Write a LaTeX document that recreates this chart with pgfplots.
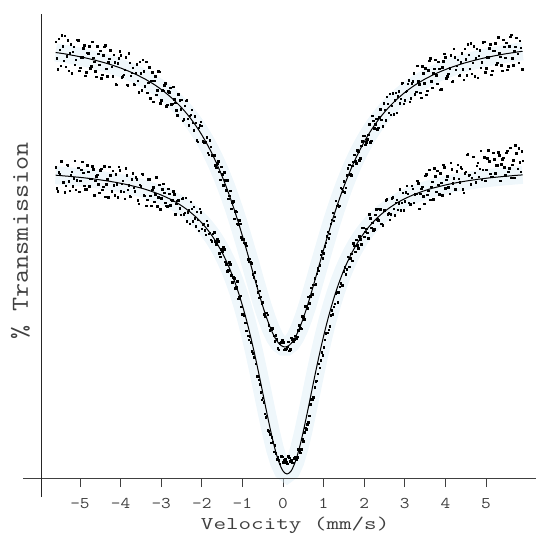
\documentclass[border=0pt]{standalone}
\usepackage{pgfplots}
\pgfplotsset{compat=1.18}
\usepackage{pgfplotstable}
\usepackage{graphicx}
\usepackage{fontspec}
\definecolor{haze}{rgb}{0.86,0.93,0.97}
\definecolor{axisgray}{gray}{0.25}
\newcommand\sx[1]{\scalebox{1.15}[1]{#1}}

\pgfplotstableread{
x U L
-5.6 425.5 302.8
-5.5 424.9 302.5
-5.4 424.3 302.1
-5.3 423.6 301.8
-5.2 422.8 301.4
-5.1 422.1 301.0
-5.0 421.2 300.6
-4.9 420.4 300.2
-4.8 419.5 299.7
-4.7 418.5 299.2
-4.6 417.5 298.7
-4.5 416.4 298.1
-4.4 415.3 297.5
-4.3 414.1 296.9
-4.2 412.8 296.2
-4.1 411.4 295.5
-4.0 410.0 294.7
-3.9 408.4 293.9
-3.8 406.8 293.0
-3.7 405.0 292.0
-3.6 403.2 291.0
-3.5 401.1 290.0
-3.4 399.0 288.8
-3.3 396.6 287.5
-3.2 394.2 286.1
-3.1 391.5 284.6
-3.0 388.6 283.0
-2.9 385.5 281.2
-2.8 382.1 279.3
-2.7 378.5 277.2
-2.6 374.6 274.9
-2.5 370.4 272.3
-2.4 365.8 269.5
-2.3 360.8 266.4
-2.2 355.4 263.0
-2.1 349.5 259.3
-2.0 343.1 255.1
-1.9 336.1 250.4
-1.8 328.6 245.2
-1.7 320.3 239.4
-1.6 311.4 232.8
-1.5 301.8 225.5
-1.4 291.4 217.2
-1.3 280.2 208.0
-1.2 268.3 197.5
-1.1 255.6 185.8
-1.0 242.2 172.6
-0.9 228.3 158.0
-0.8 214.1 141.8
-0.7 199.7 124.2
-0.6 185.6 105.3
-0.5 172.1 85.5
-0.4 159.8 65.6
-0.3 149.1 46.5
-0.2 140.5 29.4
-0.1 134.5 15.9
0.0 131.4 7.0
0.1 131.4 4.0
0.2 134.5 7.0
0.3 140.5 15.9
0.4 149.1 29.4
0.5 159.8 46.5
0.6 172.1 65.6
0.7 185.6 85.5
0.8 199.7 105.3
0.9 214.1 124.2
1.0 228.3 141.8
1.1 242.2 158.0
1.2 255.6 172.6
1.3 268.3 185.8
1.4 280.2 197.5
1.5 291.4 208.0
1.6 301.8 217.2
1.7 311.4 225.5
1.8 320.3 232.8
1.9 328.6 239.4
2.0 336.1 245.2
2.1 343.1 250.4
2.2 349.5 255.1
2.3 355.4 259.3
2.4 360.8 263.0
2.5 365.8 266.4
2.6 370.4 269.5
2.7 374.6 272.3
2.8 378.5 274.9
2.9 382.1 277.2
3.0 385.5 279.3
3.1 388.6 281.2
3.2 391.5 283.0
3.3 394.2 284.6
3.4 396.6 286.1
3.5 399.0 287.5
3.6 401.1 288.8
3.7 403.2 290.0
3.8 405.0 291.0
3.9 406.8 292.0
4.0 408.4 293.0
4.1 410.0 293.9
4.2 411.4 294.7
4.3 412.8 295.5
4.4 414.1 296.2
4.5 415.3 296.9
4.6 416.4 297.5
4.7 417.5 298.1
4.8 418.5 298.7
4.9 419.5 299.2
5.0 420.4 299.7
5.1 421.2 300.2
5.2 422.1 300.6
5.3 422.8 301.0
5.4 423.6 301.4
5.5 424.3 301.8
5.6 424.9 302.1
5.7 425.5 302.5
5.8 426.2 302.8
5.9 426.7 303.1
}\fitdata

\pgfplotstableread{
x y
-5.6 436.3
-5.55 409.0
-5.5 428.5
-5.45 442.6
-5.4 417.1
-5.35 411.3
-5.3 438.0
-5.25 425.0
-5.2 404.8
-5.15 431.5
-5.1 418.5
-5.05 437.9
-5.0 410.4
-4.95 420.8
-4.9 433.0
-4.85 405.6
-4.8 424.9
-4.75 410.0
-4.7 436.5
-4.65 416.2
-4.6 401.3
-4.55 424.2
-4.5 427.2
-4.45 403.3
-4.4 431.5
-4.35 409.3
-4.3 415.9
-4.25 427.9
-4.2 402.0
-4.15 415.7
-4.1 393.4
-4.05 419.7
-4.0 422.6
-3.95 402.0
-3.9 408.4
-3.85 393.2
-3.8 424.8
-3.75 402.3
-3.7 410.4
-3.65 393.3
-3.6 414.0
-3.55 386.0
-3.5 404.7
-3.45 418.1
-3.4 391.8
-3.35 385.2
-3.3 411.0
-3.25 397.2
-3.2 376.2
-3.15 401.9
-3.1 387.9
-3.05 406.3
-3.0 377.8
-2.95 387.1
-2.9 394.6
-2.85 373.4
-2.8 386.0
-2.75 373.8
-2.7 391.5
-2.65 375.3
-2.6 362.9
-2.55 377.7
-2.5 378.2
-2.45 359.0
-2.4 377.5
-2.35 359.4
-2.3 362.1
-2.25 368.5
-2.2 347.6
-2.15 355.1
-2.1 336.5
-2.05 352.8
-2.0 352.2
-1.95 336.0
-1.9 336.1
-1.85 325.2
-1.8 337.6
-1.75 322.7
-1.7 323.0
-1.65 310.5
-1.6 316.8
-1.55 298.5
-1.5 303.6
-1.45 305.6
-1.4 287.8
-1.35 279.5
-1.3 287.4
-1.25 275.2
-1.2 259.3
-1.15 266.5
-1.1 253.8
-1.05 254.3
-1.0 238.6
-0.95 235.3
-0.9 232.5
-0.85 216.4
-0.8 215.9
-0.75 203.9
-0.7 205.7
-0.65 192.1
-0.6 180.2
-0.55 181.3
-0.5 175.7
-0.45 161.8
-0.4 165.2
-0.35 152.7
-0.3 149.7
-0.25 149.6
-0.2 136.9
-0.15 138.7
-0.1 128.5
-0.05 136.0
0.0 135.6
0.05 128.6
0.1 131.4
0.15 127.4
0.2 140.5
0.25 136.3
0.3 142.3
0.35 141.2
0.4 152.7
0.45 149.1
0.5 161.0
0.55 172.0
0.6 169.7
0.65 174.7
0.7 190.4
0.75 193.3
0.8 193.7
0.85 209.9
0.9 212.9
0.95 226.6
1.0 224.7
1.05 235.3
1.1 246.4
1.15 244.1
1.2 258.3
1.25 257.5
1.3 277.3
1.35 273.4
1.4 272.1
1.45 289.4
1.5 296.8
1.55 290.3
1.6 309.9
1.65 303.9
1.7 312.3
1.75 323.1
1.8 314.9
1.85 326.3
1.9 319.6
1.95 336.9
2.0 342.4
2.05 336.0
2.1 343.1
2.15 335.9
2.2 362.5
2.25 349.9
2.3 359.3
2.35 350.3
2.4 368.6
2.45 351.6
2.5 368.4
2.55 381.1
2.6 365.2
2.65 363.4
2.7 385.0
2.75 377.9
2.8 365.5
2.85 386.8
2.9 379.5
2.95 395.5
3.0 377.7
3.05 387.1
3.1 397.7
3.15 379.7
3.2 396.9
3.25 383.9
3.3 412.2
3.35 393.6
3.4 380.4
3.45 405.0
3.5 409.8
3.55 387.5
3.6 417.3
3.65 396.8
3.7 405.0
3.75 418.5
3.8 394.2
3.85 409.5
3.9 388.8
3.95 416.6
4.0 421.0
4.05 402.0
4.1 410.0
4.15 396.3
4.2 429.4
4.25 408.5
4.3 418.2
4.35 402.7
4.4 424.9
4.45 398.5
4.5 418.9
4.55 433.9
4.6 409.2
4.65 404.4
4.7 431.9
4.75 419.8
4.8 400.5
4.85 428.0
4.9 415.9
4.95 436.2
5.0 409.6
5.05 420.8
5.1 433.8
5.15 407.3
5.2 427.5
5.25 413.5
5.3 440.8
5.35 421.4
5.4 407.4
5.45 431.1
5.5 435.1
5.55 412.0
5.6 441.1
5.65 419.8
5.7 427.3
5.75 440.3
5.8 415.4
5.85 430.1
5.9 408.7
}\upperdata

\pgfplotstableread{
x y
-5.575 420.0
-5.525 439.5
-5.475 412.2
-5.425 431.7
-5.375 442.1
-5.325 421.9
-5.275 407.2
-5.225 433.8
-5.175 426.3
-5.125 413.3
-5.075 438.1
-5.025 407.1
-4.975 421.0
-4.925 429.6
-4.875 402.2
-4.825 425.2
-4.775 431.9
-4.725 411.6
-4.675 420.1
-4.625 407.0
-4.575 431.7
-4.525 413.1
-4.475 400.0
-4.425 422.8
-4.375 433.0
-4.325 401.8
-4.275 419.2
-4.225 411.4
-4.175 423.3
-4.125 393.8
-4.075 414.7
-4.025 426.6
-3.975 400.6
-3.925 403.4
-3.875 420.6
-3.825 392.8
-3.775 415.4
-3.725 405.5
-3.675 393.8
-3.625 405.5
-3.575 397.3
-3.525 416.1
-3.475 388.0
-3.425 406.8
-3.375 416.4
-3.325 395.4
-3.275 379.8
-3.225 405.6
-3.175 397.2
-3.125 383.2
-3.075 407.0
-3.025 375.0
-2.975 387.9
-2.925 392.8
-2.875 371.7
-2.825 386.9
-2.775 390.3
-2.725 374.2
-2.675 378.9
-2.625 367.8
-2.575 384.0
-2.525 368.9
-2.475 357.5
-2.425 372.2
-2.375 377.6
-2.325 353.0
-2.275 363.4
-2.225 355.5
-2.175 361.8
-2.125 338.0
-2.075 350.5
-2.025 356.4
-1.975 336.9
-1.925 335.2
-1.875 340.6
-1.825 323.3
-1.775 331.1
-1.725 322.4
-1.675 312.7
-1.625 314.6
-1.575 306.3
-1.525 311.4
-1.475 292.9
-1.425 297.6
-1.375 297.6
-1.325 282.1
-1.275 269.2
-1.225 276.7
-1.175 267.0
-1.125 254.3
-1.075 257.7
-1.025 240.8
-0.975 238.8
-0.925 234.8
-0.875 218.8
-0.825 219.5
-0.775 214.7
-0.725 200.9
-0.675 196.8
-0.625 185.6
-0.575 187.1
-0.525 174.3
-0.475 163.6
-0.425 165.3
-0.375 163.2
-0.325 147.6
-0.275 148.8
-0.225 142.1
-0.175 142.6
-0.125 130.0
-0.075 135.0
-0.025 137.6
0.025 128.2
0.075 129.4
0.125 136.4
0.175 129.0
0.225 139.0
0.275 139.0
0.325 139.1
0.375 147.6
0.425 150.0
0.475 162.0
0.525 158.7
0.575 171.5
0.625 181.5
0.675 181.7
0.725 183.8
0.775 199.8
0.825 204.5
0.875 207.5
0.925 223.1
0.975 220.0
1.025 231.8
1.075 241.8
1.125 239.6
1.175 254.1
1.225 265.1
1.275 261.5
1.325 272.2
1.375 271.9
1.425 290.2
1.475 286.8
1.525 285.9
1.575 302.8
1.625 313.2
1.675 302.7
1.725 316.4
1.775 317.2
1.825 327.8
1.875 317.6
1.925 332.3
1.975 342.4
2.025 333.4
2.075 338.6
2.125 353.8
2.175 337.5
2.225 357.5
2.275 354.0
2.325 348.9
2.375 360.8
2.425 358.2
2.475 375.0
2.525 357.8
2.575 374.5
2.625 384.5
2.675 372.3
2.725 363.9
2.775 385.4
2.825 382.0
2.875 374.7
2.925 394.7
2.975 374.2
3.025 386.3
3.075 394.4
3.125 376.4
3.175 394.7
3.225 404.8
3.275 386.4
3.325 396.6
3.375 385.2
3.425 411.6
3.475 394.8
3.525 383.4
3.575 407.8
3.625 419.7
3.675 390.1
3.725 409.1
3.775 402.8
3.825 416.3
3.875 388.4
3.925 410.8
3.975 424.2
4.025 399.8
4.075 404.2
4.125 423.0
4.175 396.7
4.225 420.8
4.275 412.5
4.325 402.4
4.375 415.6
4.425 409.0
4.475 429.4
4.525 403.0
4.575 423.4
4.625 434.7
4.675 415.5
4.725 401.6
4.775 429.1
4.825 422.4
4.875 410.3
4.925 435.9
4.975 405.8
5.025 420.6
5.075 430.0
5.125 403.5
5.175 427.3
5.225 434.9
5.275 415.5
5.325 424.8
5.375 412.6
5.425 438.2
5.475 420.5
5.525 408.3
5.575 431.9
5.625 443.1
5.675 412.8
5.725 431.1
5.775 424.3
5.825 437.2
5.875 408.6
}\upperdatab

\pgfplotstableread{
x y
-5.6 310.8
-5.55 286.6
-5.5 304.1
-5.45 316.7
-5.4 295.7
-5.35 292.3
-5.3 313.0
-5.25 287.2
-5.2 306.2
-5.15 299.6
-5.1 288.2
-5.05 310.4
-5.0 297.4
-4.95 316.4
-4.9 292.2
-4.85 288.7
-4.8 306.1
-4.75 299.4
-4.7 312.0
-4.65 282.9
-4.6 301.9
-4.55 293.6
-4.5 307.7
-4.45 288.2
-4.4 311.9
-4.35 294.0
-4.3 280.9
-4.25 302.9
-4.2 307.4
-4.15 283.0
-4.1 293.9
-4.05 311.1
-4.0 286.7
-3.95 297.5
-3.9 279.5
-3.85 303.0
-3.8 293.0
-3.75 281.3
-3.7 304.8
-3.65 286.7
-3.6 299.0
-3.55 274.5
-3.5 291.6
-3.45 303.8
-3.4 282.4
-3.35 278.5
-3.3 298.7
-3.25 272.4
-3.2 290.9
-3.15 283.8
-3.1 271.8
-3.05 293.4
-3.0 279.8
-2.95 294.1
-2.9 275.2
-2.85 271.8
-2.8 284.1
-2.75 278.2
-2.7 286.8
-2.65 264.0
-2.6 277.3
-2.55 270.0
-2.5 279.5
-2.45 263.7
-2.4 280.3
-2.35 265.6
-2.3 254.4
-2.25 269.5
-2.2 271.4
-2.15 251.6
-2.1 258.1
-2.05 269.2
-2.0 249.1
-1.95 254.4
-1.9 243.2
-1.85 252.6
-1.8 245.2
-1.75 236.7
-1.7 245.8
-1.65 233.7
-1.6 236.8
-1.55 221.2
-1.5 226.3
-1.45 228.6
-1.4 214.0
-1.35 207.8
-1.3 213.6
-1.25 195.6
-1.2 199.9
-1.15 190.9
-1.1 179.4
-1.05 182.2
-1.0 163.6
-0.95 162.3
-0.9 147.5
-0.85 138.4
-0.8 135.8
-0.75 125.0
-0.7 120.2
-0.65 101.8
-0.6 98.3
-0.55 85.9
-0.5 80.5
-0.45 64.5
-0.4 62.1
-0.35 46.9
-0.3 35.5
-0.25 35.6
-0.2 32.9
-0.15 18.9
-0.1 17.6
-0.05 22.0
0.0 16.0
0.05 18.8
0.1 14.4
0.15 20.4
0.2 18.0
0.25 15.2
0.3 21.2
0.35 20.9
0.4 27.9
0.45 28.6
0.5 37.0
0.55 50.4
0.6 53.6
0.65 62.5
0.7 79.0
0.75 80.9
0.8 96.8
0.85 104.3
0.9 110.2
0.95 126.0
1.0 130.8
1.05 144.9
1.1 145.5
1.15 151.8
1.2 167.8
1.25 171.2
1.3 184.2
1.35 175.7
1.4 191.1
1.45 192.4
1.5 206.8
1.55 203.8
1.6 221.4
1.65 219.8
1.7 217.5
1.75 232.4
1.8 238.4
1.85 229.7
1.9 238.6
1.95 250.3
2.0 241.2
2.05 249.4
2.1 239.6
2.15 260.0
2.2 255.1
2.25 248.8
2.3 268.9
2.35 257.6
2.4 269.0
2.45 252.7
2.5 267.6
2.55 278.8
2.6 264.7
2.65 263.7
2.7 280.7
2.75 262.8
2.8 278.5
2.85 274.8
2.9 267.6
2.95 285.4
3.0 276.9
3.05 292.2
3.1 275.2
3.15 273.7
3.2 289.4
3.25 283.8
3.3 297.4
3.35 269.4
3.4 289.3
3.45 282.0
3.5 302.1
3.55 283.5
3.6 308.2
3.65 291.2
3.7 279.0
3.75 301.9
3.8 307.2
3.85 283.7
3.9 295.4
3.95 313.5
4.0 290.0
4.05 301.6
4.1 284.5
4.15 308.9
4.2 299.7
4.25 288.9
4.3 313.3
4.35 296.0
4.4 309.2
4.45 285.5
4.5 306.5
4.55 323.6
4.6 303.1
4.65 300.2
4.7 321.3
4.75 296.0
4.8 315.5
4.85 309.3
4.9 298.4
4.95 321.0
5.0 308.5
5.05 327.9
5.1 304.2
5.15 301.2
5.2 319.0
5.25 312.8
5.3 325.8
5.35 297.2
5.4 318.6
5.45 310.8
5.5 325.4
5.55 306.3
5.6 330.5
5.65 313.1
5.7 300.5
5.75 325.0
5.8 330.0
5.85 306.1
5.9 317.5
}\lowerdata

\pgfplotstableread{
x y
-5.575 289.9
-5.525 305.8
-5.475 316.8
-5.425 295.8
-5.375 286.0
-5.325 313.1
-5.275 296.9
-5.225 303.1
-5.175 291.7
-5.125 317.1
-5.075 297.7
-5.025 286.3
-4.975 308.5
-4.925 305.1
-4.875 288.9
-4.825 312.6
-4.775 291.6
-4.725 299.3
-4.675 308.7
-4.625 297.2
-4.575 303.4
-4.525 285.5
-4.475 309.2
-4.425 291.3
-4.375 281.4
-4.325 298.7
-4.275 311.1
-4.225 286.8
-4.175 292.8
-4.125 303.7
-4.075 280.9
-4.025 307.7
-3.975 294.5
-3.925 286.1
-3.875 309.7
-3.825 288.4
-3.775 281.6
-3.725 298.7
-3.675 290.2
-3.625 300.9
-3.575 277.9
-3.525 293.5
-3.475 304.1
-3.425 282.7
-3.375 272.5
-3.325 299.0
-3.275 282.4
-3.225 288.1
-3.175 276.2
-3.125 301.0
-3.075 281.0
-3.025 269.0
-2.975 288.6
-2.925 285.3
-2.875 272.3
-2.825 289.4
-2.775 272.8
-2.725 277.7
-2.675 283.8
-2.625 274.2
-2.575 277.9
-2.525 263.4
-2.475 280.0
-2.425 265.4
-2.375 256.8
-2.325 268.4
-2.275 276.4
-2.225 256.7
-2.175 259.7
-2.125 266.3
-2.075 247.5
-2.025 265.8
-1.975 254.0
-1.925 247.6
-1.875 257.1
-1.825 244.1
-1.775 238.2
-1.725 244.1
-1.675 237.0
-1.625 239.3
-1.575 224.6
-1.525 229.0
-1.475 230.7
-1.425 216.1
-1.375 206.9
-1.325 215.9
-1.275 203.0
-1.225 201.0
-1.175 189.8
-1.125 196.8
-1.075 181.5
-1.025 171.4
-0.975 163.5
-0.925 155.2
-0.875 142.5
-0.825 141.9
-0.775 126.9
-0.725 120.6
-0.675 114.5
-0.625 101.6
-0.575 93.9
-0.525 78.5
-0.475 76.0
-0.425 60.6
-0.375 47.8
-0.325 43.7
-0.275 40.6
-0.225 26.5
-0.175 25.0
-0.125 21.0
-0.075 14.4
-0.025 21.2
0.025 18.0
0.075 16.0
0.125 22.0
0.175 16.8
0.225 15.2
0.275 19.6
0.325 18.6
0.375 28.8
0.425 25.5
0.475 39.0
0.525 45.7
0.575 48.8
0.625 55.6
0.675 74.0
0.725 79.0
0.775 90.9
0.825 97.1
0.875 114.5
0.925 117.6
0.975 122.9
1.025 138.4
1.075 145.5
1.125 148.2
1.175 163.0
1.225 163.9
1.275 174.5
1.325 185.6
1.375 185.8
1.425 194.6
1.475 193.0
1.525 210.9
1.575 208.7
1.625 211.3
1.675 224.3
1.725 234.6
1.775 226.2
1.825 232.9
1.875 241.8
1.925 233.7
1.975 250.2
2.025 246.5
2.075 245.1
2.125 263.6
2.175 250.4
2.225 247.8
2.275 263.1
2.325 259.0
2.375 269.3
2.425 254.3
2.475 268.0
2.525 278.0
2.575 264.0
2.625 258.2
2.675 280.0
2.725 269.4
2.775 275.5
2.825 268.3
2.875 288.6
2.925 275.3
2.975 268.0
3.025 285.8
3.075 284.3
3.125 273.3
3.175 292.2
3.225 275.4
3.275 284.2
3.325 294.6
3.375 284.2
3.425 291.3
3.475 274.4
3.525 304.0
3.575 287.1
3.625 278.1
3.675 296.3
3.725 309.7
3.775 286.2
3.825 293.1
3.875 304.8
3.925 282.9
3.975 310.6
4.025 298.2
4.075 290.7
4.125 315.1
4.175 294.7
4.225 288.7
4.275 306.7
4.325 299.1
4.375 310.6
4.425 288.6
4.475 304.9
4.525 323.5
4.575 303.0
4.625 293.7
4.675 321.2
4.725 305.5
4.775 312.2
4.825 301.2
4.875 327.1
4.925 308.1
4.975 297.2
5.025 319.8
5.075 316.9
5.125 301.1
5.175 325.3
5.225 304.7
5.275 312.9
5.325 322.7
5.375 313.7
5.425 320.3
5.475 302.9
5.525 327.1
5.575 309.6
5.625 300.2
5.675 318.0
5.725 333.0
5.775 309.1
5.825 315.7
5.875 327.0
}\lowerdatab

\begin{document}
\begin{tikzpicture}
\begin{axis}[
  x=40.6bp, y=1bp,
  xmin=-5.96, xmax=6.23, ymin=0, ymax=464,
  axis x line*=bottom, axis y line*=left,
  axis line style={draw=none},
  ytick=\empty,
  xtick={-5,-4,-3,-2,-1,0,1,2,3,4,5},
  xticklabels={\sx{-5},\sx{-4},\sx{-3},\sx{-2},\sx{-1},\sx{0},\sx{1},\sx{2},\sx{3},\sx{4},\sx{5}},
  tick align=outside,
  major tick length=9bp,
  xtick style={draw=axisgray, line width=0.8pt},
  xticklabel style={font=\ttfamily\fontsize{16.4}{17}\selectfont, text=axisgray, anchor=base, yshift=-21.5bp},
  clip=false,
]
\addplot[haze, line width=18bp, opacity=0.45] table[x=x, y=U] {\fitdata};
\addplot[haze, line width=18bp, opacity=0.45] table[x=x, y=L] {\fitdata};
\addplot[only marks, mark=square*, mark size=0.75pt, black] table[x=x, y=y] {\upperdata};
\addplot[only marks, mark=square*, mark size=0.75pt, black] table[x=x, y=y] {\upperdatab};
\addplot[only marks, mark=square*, mark size=0.75pt, black] table[x=x, y=y] {\lowerdata};
\addplot[only marks, mark=square*, mark size=0.75pt, black] table[x=x, y=y] {\lowerdatab};
\addplot[black, line width=1.0pt, smooth] table[x=x, y=U] {\fitdata};
\addplot[black, line width=1.0pt, smooth] table[x=x, y=L] {\fitdata};
\draw[axisgray, line width=0.9pt] (axis cs:-6.40,0) -- (axis cs:6.23,0);
\draw[black!85, line width=0.9pt] (axis cs:-5.96,-19) -- (axis cs:-5.96,464);
\node[anchor=base, font=\ttfamily\fontsize{18}{19}\selectfont, text=axisgray] at (axis cs:0.30,-51.5) {\scalebox{1.36}[1]{Velocity (mm/s)}};
\node[rotate=90, anchor=base, font=\ttfamily\fontsize{24.5}{25}\selectfont, text=axisgray] at (axis cs:-6.281,237) {\scalebox{1.12}[1]{\% Transmission}};
\coordinate (bl) at (axis cs:-6.970,-60);
\coordinate (tr) at (axis cs:6.232,478);
\end{axis}
\pgfresetboundingbox
\path (bl) rectangle (tr);
\end{tikzpicture}
\end{document}
